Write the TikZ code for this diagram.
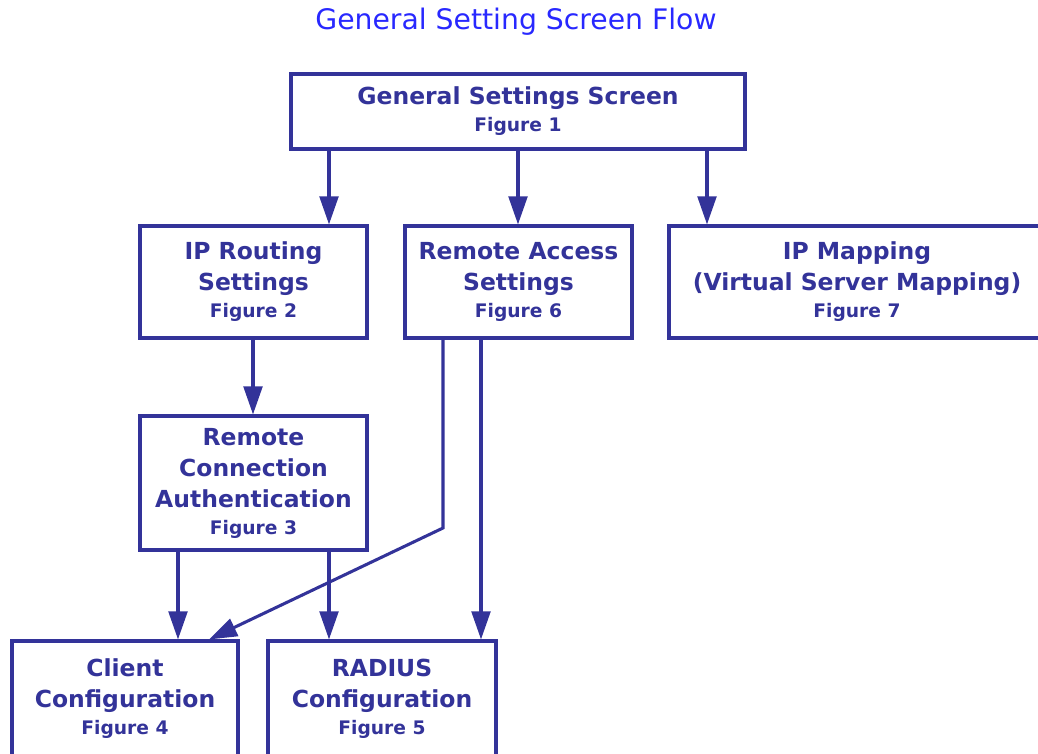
\documentclass[tikz,border=0pt]{standalone}
\usepackage{fontspec}
\setmainfont{DejaVu Sans}
\usetikzlibrary{arrows.meta}
\definecolor{flowblue}{RGB}{51,51,153}
\definecolor{titleblue}{RGB}{40,40,255}
\newcommand{\figline}[1]{\\[-3pt]{\fontsize{14}{16}\selectfont #1}}
\tikzset{
  box/.style={draw=flowblue, line width=2.3pt, text=flowblue, align=center,
    font=\fontsize{17.6}{23.25}\selectfont\bfseries, inner sep=0pt},
  arr/.style={draw=flowblue, line width=2.3pt,
    -{Triangle[width=14pt,length=21pt]}},
}
\begin{document}
\begin{tikzpicture}[x=0.75pt, y=-0.75pt]
  \useasboundingbox (0,0) rectangle (1038,753);
  \clip (0,0) rectangle (1038,753);

  % title
  \node[text=titleblue, font=\fontsize{21.2}{24}\selectfont] (title) at (516,22) {General Setting Screen Flow};

  % screens
  \node[box, minimum width=340.5pt, minimum height=56.25pt] (gs) at (518,111.5)
    {General Settings Screen\figline{Figure 1}};
  \node[box, minimum width=170.25pt, minimum height=84pt] (ipr) at (253.5,282)
    {IP Routing\\Settings\figline{Figure 2}};
  \node[box, minimum width=170.25pt, minimum height=84pt] (ras) at (518.5,282)
    {Remote Access\\Settings\figline{Figure 6}};
  \node[box, minimum width=282pt, minimum height=84pt] (ipm) at (857,282)
    {IP Mapping\\(Virtual Server Mapping)\figline{Figure 7}};
  \node[box, minimum width=170.25pt, minimum height=100.5pt] (rca) at (253.5,483)
    {Remote\\Connection\\Authentication\figline{Figure 3}};
  \node[box, minimum width=169.5pt, minimum height=86.25pt] (cc) at (125,698.5)
    {Client\\Configuration\figline{Figure 4}};
  \node[box, minimum width=171pt, minimum height=86.25pt] (rad) at (382,698.5)
    {RADIUS\\Configuration\figline{Figure 5}};

  % connector columns
  \coordinate (xa) at (329,0);
  \coordinate (xb) at (518,0);
  \coordinate (xc) at (707,0);
  \coordinate (xd) at (253,0);
  \coordinate (xe) at (443,0);
  \coordinate (xf) at (481,0);
  \coordinate (xg) at (178,0);
  \coordinate (xt) at (209,0);
  \coordinate (bend) at (443,528);

  % connectors
  \draw[arr] (gs.south -| xa) -- (ipr.north -| xa);
  \draw[arr] (gs.south -| xb) -- (ras.north -| xb);
  \draw[arr] (gs.south -| xc) -- (ipm.north -| xc);
  \draw[arr] (ipr.south -| xd) -- (rca.north -| xd);
  \draw[arr] (rca.south -| xg) -- (cc.north -| xg);
  \draw[arr] (rca.south -| xa) -- (rad.north -| xa);
  \draw[arr] (ras.south -| xe) -- (bend) -- (cc.north -| xt);
  \draw[arr] (ras.south -| xf) -- (rad.north -| xf);
\end{tikzpicture}
\end{document}
